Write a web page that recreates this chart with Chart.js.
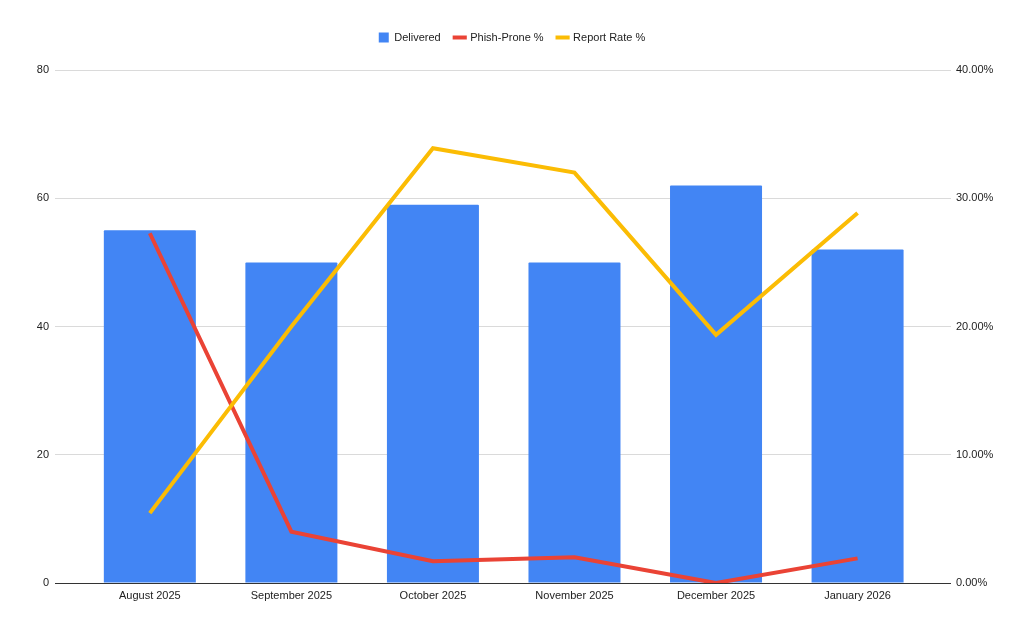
<!DOCTYPE html>
<html>
<head>
<meta charset="utf-8">
<style>
	html, body {
		margin: 0;
		padding: 0;
		background: #fff;
	}
	#wrap {
		width: 1024px;
		height: 633px;
	}
</style>
<script src="https://cdn.jsdelivr.net/npm/chart.js@4/dist/chart.umd.min.js"></script>
</head>
<body>
<div id="wrap"><canvas id="myChart" width="1024" height="633"></canvas></div>

<script>
	const months = ["August 2025", "September 2025", "October 2025", "November 2025", "December 2025", "January 2026"];
	const delivered = [55, 50, 59, 50, 62, 52];
	// rates as fractions, right axis
	const phishProne = [0.2727, 0.04, 0.0169, 0.02, 0, 0.0192];
	const reportRate = [0.0545, 0.2, 0.339, 0.32, 0.1935, 0.2885];

	const toPoints = (arr) => arr.map((v, i) => ({ x: i, y: v }));

	const font = { family: "'Liberation Sans', Arial, sans-serif", size: 11 };
	Chart.defaults.font = font;
	Chart.defaults.color = "#222";

	// extra room under the legend
	const legendMargin = {
		id: "legendMargin",
		beforeInit(chart) {
			const fit = chart.legend.fit;
			chart.legend.fit = function () {
				fit.bind(chart.legend)();
				this.height += 17;
			};
		},
	};

	const ctx = document.getElementById("myChart").getContext("2d");

	const myChart = new Chart(ctx, {
		plugins: [legendMargin],
		data: {
			datasets: [
				{
					type: "bar",
					label: "Delivered",
					data: toPoints(delivered),
					yAxisID: "y",
					backgroundColor: "#4285F4",
					borderWidth: 0,
					borderRadius: 1,
					categoryPercentage: 1,
					barPercentage: 0.65,
					pointStyle: "rect",
					order: 3,
				},
				{
					type: "line",
					label: "Phish-Prone %",
					data: toPoints(phishProne),
					yAxisID: "y1",
					borderColor: "#EA4335",
					backgroundColor: "#EA4335",
					borderWidth: 4,
					pointRadius: 0,
					pointStyle: "line",
					borderJoinStyle: "miter",
					tension: 0,
					order: 2,
				},
				{
					type: "line",
					label: "Report Rate %",
					data: toPoints(reportRate),
					yAxisID: "y1",
					borderColor: "#FBBC04",
					backgroundColor: "#FBBC04",
					borderWidth: 4,
					pointRadius: 0,
					pointStyle: "line",
					borderJoinStyle: "miter",
					tension: 0,
					order: 1,
				},
			],
		},
		options: {
			responsive: false,
			animation: false,
			layout: {
				padding: { top: 18, left: 0, right: 0, bottom: 0 },
			},
			plugins: {
				tooltip: { enabled: false },
				legend: {
					position: "top",
					labels: {
						usePointStyle: true,
						boxWidth: 10,
						boxHeight: 10,
						padding: 14,
						color: "#222",
						font: font,
						sort: (a, b) => a.datasetIndex - b.datasetIndex,
					},
				},
			},
			scales: {
				x: {
					type: "linear",
					min: -0.67,
					max: 5.66,
					offset: false,
					grace: 0,
					grid: { display: false, drawTicks: false, tickLength: 0 },
					border: { display: false },
					afterBuildTicks: (scale) => {
						scale.ticks = months.map((m, i) => ({ value: i }));
					},
					afterFit: (scale) => {
						scale.height = 50;
					},
					ticks: {
						padding: 6,
						maxRotation: 0,
						autoSkip: false,
						color: "#222",
						callback: (v) => months[v],
					},
				},
				y: {
					position: "left",
					min: 0,
					max: 80,
					ticks: {
						stepSize: 20,
						padding: 6,
						color: "#222",
					},
					grid: {
						drawTicks: false,
						color: (c) => (c.tick.value === 0 ? "#333" : "#dadada"),
						lineWidth: 1,
					},
					border: { display: false },
					afterFit: (scale) => {
						scale.width = 55;
					},
				},
				y1: {
					position: "right",
					min: 0,
					max: 0.4,
					ticks: {
						stepSize: 0.1,
						padding: 5,
						color: "#222",
						callback: (v) => (v * 100).toFixed(2) + "%",
					},
					grid: { display: false, drawTicks: false },
					border: { display: false },
					afterFit: (scale) => {
						scale.width = 73;
					},
				},
			},
		},
	});
</script>
</body>
</html>
